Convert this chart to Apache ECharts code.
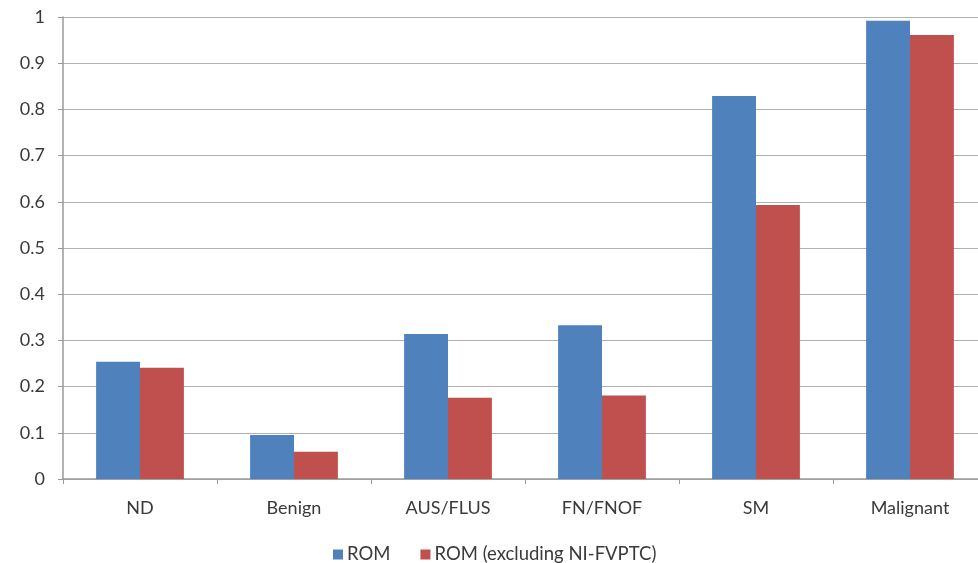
<!DOCTYPE html>
<html>
<head>
<meta charset="utf-8">
<script src="https://cdn.jsdelivr.net/npm/echarts@6/dist/echarts.min.js"></script>
<style>
html,body{margin:0;padding:0;background:#fff;}
#chart{width:978px;height:563px;}
</style>
</head>
<body>
<div id="chart"></div>
<script>
const categories = ['ND', 'Benign', 'AUS/FLUS', 'FN/FNOF', 'SM', 'Malignant'];
const romValues = [0.254, 0.095, 0.314, 0.333, 0.829, 0.992];
const romExclValues = [0.241, 0.059, 0.176, 0.181, 0.593, 0.961];
const seriesNames = ['ROM', 'ROM (excluding NI-FVPTC)'];

const chart = echarts.init(document.getElementById('chart'), null, {renderer: 'canvas'});
const font = 'Lato, "Open Sans", sans-serif';
chart.setOption({
  animation: false,
  backgroundColor: '#ffffff',
  color: ['#4F81BD', '#C0504D'],
  grid: {left: 63, width: 924, top: 17, height: 462, containLabel: false, outerBoundsMode: 'none'},
  legend: {
    top: 540,
    left: 328,
    itemWidth: 10,
    itemHeight: 10,
    itemGap: 30,
    icon: 'rect',
    textStyle: {color: '#3a3a3a', fontSize: 18.5, fontFamily: font, padding: [0, 0, 0, -1]},
    data: seriesNames
  },
  xAxis: {
    type: 'category',
    data: categories,
    axisLine: {show: true, lineStyle: {color: '#9a9a9a', width: 1.5}},
    axisTick: {show: true, alignWithLabel: false, length: 5, lineStyle: {color: '#9a9a9a'}},
    axisLabel: {color: '#3a3a3a', fontSize: 18, fontFamily: font, margin: 20}
  },
  yAxis: {
    type: 'value',
    min: 0,
    max: 1,
    interval: 0.1,
    axisLine: {show: true, lineStyle: {color: '#9a9a9a', width: 1.5}},
    axisTick: {show: true, length: 5, lineStyle: {color: '#9a9a9a'}},
    splitLine: {show: true, lineStyle: {color: '#b0b0b0', width: 1.2}},
    axisLabel: {color: '#3a3a3a', fontSize: 18, fontFamily: font, margin: 18,
      formatter: v => String(Math.round(v * 10) / 10)}
  },
  series: [
    {name: seriesNames[0], type: 'bar', data: romValues, barGap: '0%', barCategoryGap: '43%'},
    {name: seriesNames[1], type: 'bar', data: romExclValues, barGap: '0%', barCategoryGap: '43%'}
  ]
});
</script>
</body>
</html>
